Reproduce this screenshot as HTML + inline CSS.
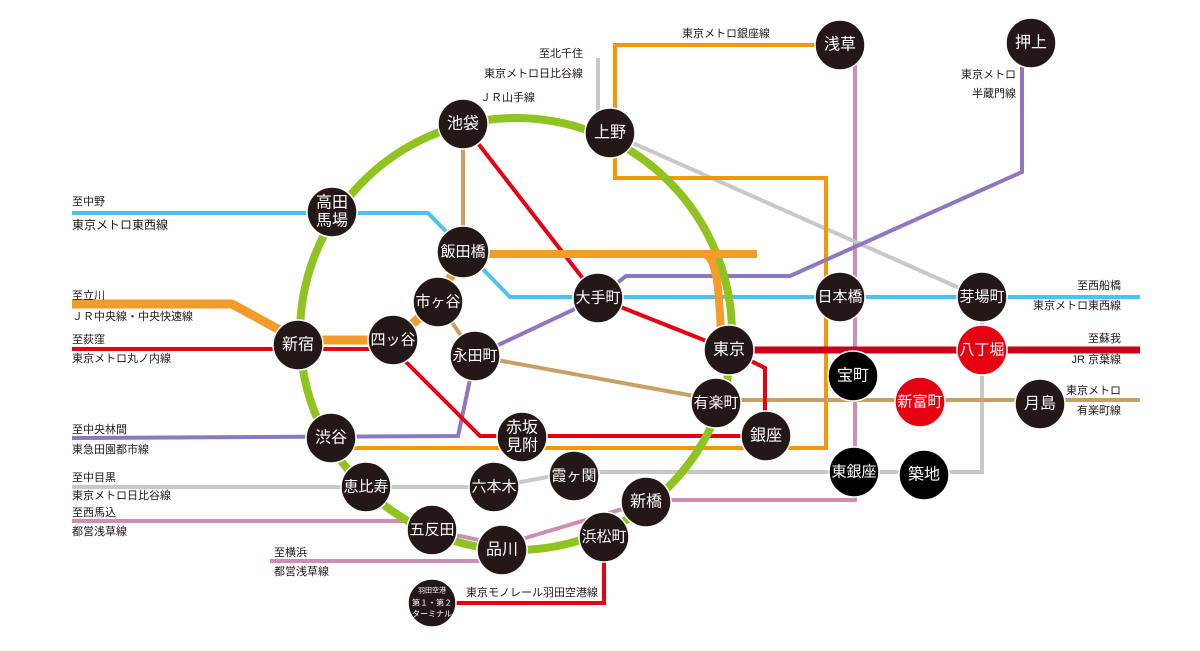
<!DOCTYPE html>
<html><head><meta charset="utf-8"><style>
html,body{margin:0;padding:0;background:#fff;}
svg{display:block;font-family:"Liberation Sans","Noto Sans CJK JP",sans-serif;}
.st{fill:#231815;stroke:#fff;stroke-width:1.5;}
.bk{fill:#000;stroke:#fff;stroke-width:1.5;}
.rd{fill:#e60012;stroke:#fff;stroke-width:1.5;}
.n{fill:#fff;font-size:16px;text-anchor:middle;dominant-baseline:central;}
.t{font-size:15px;}
.l{fill:#231815;font-size:11px;}
.r{fill:#231815;font-size:11px;text-anchor:end;}
</style></head><body>
<svg width="1200" height="651" viewBox="0 0 1200 651">
<g fill="none" stroke-linejoin="miter">
<polyline points="855,45 855,500 646,500" stroke="#d18db0" stroke-width="4"/>
<polyline points="646,502 502,545 432,530 410,521 72,521" stroke="#d18db0" stroke-width="4"/>
<polyline points="270,561 502,561" stroke="#d18db0" stroke-width="4"/>
<polyline points="598,58 598,112 610,133 982,298" stroke="#c8c8c8" stroke-width="4"/>
<polyline points="982,320 982,472 854,472 574,472 494,487 72,487" stroke="#c8c8c8" stroke-width="4"/>
<polyline points="840,45 615,45 615,178 826,178 826,448 331,448" stroke="#f39800" stroke-width="4"/>
<polyline points="72,213 428,213 510,297 1140,297" stroke="#4fc1f0" stroke-width="4"/>
<polyline points="463,124 463,252 438,302 475,356 716,400 1140,400" stroke="#c9a063" stroke-width="4"/>
<polyline points="72,438 458,436 475,356 598,298 626,276 790,276 1022,172 1022,43" stroke="#8f76c0" stroke-width="4"/>
<polyline points="72,349 393,349 480,436 766,436" stroke="#e60012" stroke-width="4"/>
<polyline points="463,124 598,298 729,350 765,368 765,436" stroke="#e60012" stroke-width="4"/>
<polyline points="604,537 604,603 432,603" stroke="#e60012" stroke-width="4"/>
<circle cx="516" cy="334" r="216" stroke="#8fc31f" stroke-width="8"/>
<polyline points="72,304 232,304 298,340 393,340 438,302 463,252" stroke="#f39c2a" stroke-width="9"/>
<path d="M463,254 L704,254 Q716,256 719,300 L722,345" stroke="#f39c2a" stroke-width="8"/>
<line x1="704" y1="254" x2="757" y2="254" stroke="#f39c2a" stroke-width="8"/>
<line x1="729" y1="350" x2="1140" y2="350" stroke="#c8001e" stroke-width="7"/>
</g>
<g>
<circle class="st" cx="463" cy="124" r="25"/><text class="n" x="463" y="124">池袋</text>
<circle class="st" cx="610" cy="133" r="25"/><text class="n" x="610" y="133">上野</text>
<circle class="st" cx="332" cy="212" r="25"/><text class="n" x="332" y="203">高田</text><text class="n" x="332" y="221">馬場</text>
<circle class="st" cx="463" cy="252" r="26"/><text class="n t" x="463" y="252">飯田橋</text>
<circle class="st" cx="438" cy="302" r="25"/><text class="n t" x="438" y="302">市ヶ谷</text>
<circle class="st" cx="393" cy="340" r="25"/><text class="n t" x="393" y="340">四ッ谷</text>
<circle class="st" cx="298" cy="345" r="25"/><text class="n" x="298" y="345">新宿</text>
<circle class="st" cx="475" cy="356" r="25"/><text class="n t" x="475" y="356">永田町</text>
<circle class="st" cx="598" cy="298" r="25"/><text class="n t" x="598" y="298">大手町</text>
<circle class="st" cx="729" cy="350" r="25"/><text class="n" x="729" y="350">東京</text>
<circle class="st" cx="716" cy="403" r="25"/><text class="n t" x="716" y="403">有楽町</text>
<circle class="st" cx="766" cy="436" r="25"/><text class="n" x="766" y="436">銀座</text>
<circle class="st" cx="522" cy="437" r="25"/><text class="n" x="522" y="428">赤坂</text><text class="n" x="522" y="446">見附</text>
<circle class="st" cx="331" cy="438" r="25"/><text class="n" x="331" y="438">渋谷</text>
<circle class="st" cx="366" cy="487" r="25"/><text class="n t" x="366" y="487">恵比寿</text>
<circle class="st" cx="494" cy="487" r="25"/><text class="n t" x="494" y="487">六本木</text>
<circle class="st" cx="574" cy="476" r="25"/><text class="n t" x="574" y="476">霞ヶ関</text>
<circle class="st" cx="646" cy="502" r="25"/><text class="n" x="646" y="502">新橋</text>
<circle class="st" cx="432" cy="530" r="25"/><text class="n t" x="432" y="530">五反田</text>
<circle class="st" cx="502" cy="550" r="25"/><text class="n" x="502" y="550">品川</text>
<circle class="st" cx="604" cy="537" r="25"/><text class="n t" x="604" y="537">浜松町</text>
<circle class="st" cx="432" cy="603" r="24"/>
<text class="n" x="432" y="591" style="font-size:7px">羽田空港</text><text class="n" x="432" y="603" style="font-size:8px">第１・第２</text><text class="n" x="432" y="614" style="font-size:8px">ターミナル</text>
<circle class="st" cx="840" cy="45" r="25"/><text class="n" x="840" y="45">浅草</text>
<circle class="st" cx="1031" cy="43" r="25"/><text class="n" x="1031" y="43">押上</text>
<circle class="st" cx="840" cy="297" r="25"/><text class="n t" x="840" y="297">日本橋</text>
<circle class="st" cx="982" cy="297" r="25"/><text class="n t" x="982" y="297">芽場町</text>
<circle class="rd" cx="982" cy="350" r="25"/><text class="n t" x="982" y="350">八丁堀</text>
<circle class="bk" cx="853" cy="376" r="25"/><text class="n" x="853" y="376">宝町</text>
<circle class="rd" cx="920" cy="402" r="25"/><text class="n t" x="920" y="402">新富町</text>
<circle class="st" cx="1040" cy="404" r="25"/><text class="n" x="1040" y="404">月島</text>
<circle class="bk" cx="854" cy="472" r="25"/><text class="n t" x="854" y="472">東銀座</text>
<circle class="bk" cx="924" cy="475" r="25"/><text class="n" x="924" y="475">築地</text>
</g>
<g>
<text class="l" x="72" y="205">至中野</text>
<text class="l" x="72" y="229" style="font-size:12px">東京メトロ東西線</text>
<text class="l" x="72" y="299">至立川</text>
<text class="l" x="72" y="320">ＪＲ中央線・中央快速線</text>
<text class="l" x="72" y="343">至荻窪</text>
<text class="l" x="72" y="362">東京メトロ丸ノ内線</text>
<text class="l" x="72" y="433">至中央林間</text>
<text class="l" x="72" y="453">東急田園都市線</text>
<text class="l" x="72" y="481">至中目黒</text>
<text class="l" x="72" y="499">東京メトロ日比谷線</text>
<text class="l" x="72" y="516">至西馬込</text>
<text class="l" x="72" y="535">都営浅草線</text>
<text class="l" x="274" y="556">至横浜</text>
<text class="l" x="274" y="575">都営浅草線</text>
<text class="l" x="466" y="596">東京モノレール羽田空港線</text>
<text class="r" x="583" y="57">至北千住</text>
<text class="r" x="583" y="77">東京メトロ日比谷線</text>
<text class="r" x="535" y="101">ＪＲ山手線</text>
<text class="r" x="770" y="37">東京メトロ銀座線</text>
<text class="r" x="1016" y="78">東京メトロ</text>
<text class="r" x="1016" y="97">半蔵門線</text>
<text class="r" x="1121" y="289">至西船橋</text>
<text class="r" x="1121" y="309">東京メトロ東西線</text>
<text class="r" x="1121" y="342">至蘇我</text>
<text class="r" x="1121" y="363">JR 京葉線</text>
<text class="r" x="1121" y="394">東京メトロ</text>
<text class="r" x="1121" y="414">有楽町線</text>
</g>
</svg>
</body></html>
